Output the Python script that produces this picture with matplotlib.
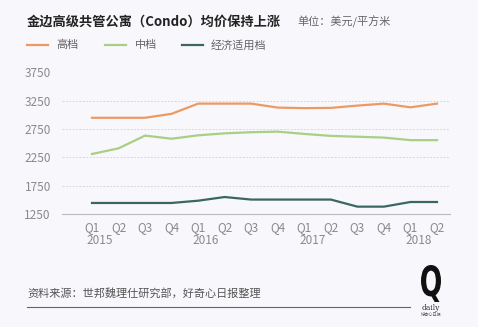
import matplotlib.pyplot as plt
from matplotlib.transforms import blended_transform_factory, Affine2D
from matplotlib.textpath import TextPath
from matplotlib.patches import PathPatch
from matplotlib.font_manager import FontProperties

plt.rcParams['font.family'] = ['Noto Sans CJK SC', 'DejaVu Sans']

quarters = ['Q1', 'Q2', 'Q3', 'Q4'] * 3 + ['Q1', 'Q2']
years = ['2015', '2016', '2017', '2018']
high = [2950, 2950, 2950, 3020, 3200, 3200, 3200, 3130, 3120, 3125, 3165, 3200, 3135, 3200]
mid = [2310, 2410, 2635, 2580, 2640, 2675, 2695, 2705, 2665, 2630, 2615, 2600, 2555, 2555]
low = [1445, 1445, 1445, 1445, 1485, 1550, 1505, 1505, 1505, 1505, 1380, 1380, 1462, 1462]
yticks = [1250, 1750, 2250, 2750, 3250, 3750]

c_high = '#ec9a62'
c_mid = '#a9cf85'
c_low = '#3b6763'
bg = '#f8f7fb'

W, H = 478, 327
fig = plt.figure(figsize=(4.78, 3.27), dpi=100, facecolor=bg)
ax = fig.add_axes([62/W, 1-214/H, 388/W, 141.5/H], facecolor=bg)

x = list(range(len(quarters)))
ax.plot(x, high, color=c_high, lw=1.6)
ax.plot(x, mid, color=c_mid, lw=1.6)
ax.plot(x, low, color=c_low, lw=1.6)

ax.set_xlim(-1.13, 13.49)
ax.set_ylim(1250, 3750)
ax.set_yticks(yticks)
ax.set_yticklabels([str(v) for v in yticks])
ax.set_xticks(x)
ax.set_xticklabels(quarters)
for s in ['top', 'right', 'left']:
    ax.spines[s].set_visible(False)
ax.spines['bottom'].set_color('#bbbbbb')
ax.spines['bottom'].set_linewidth(0.8)
ax.tick_params(length=0, labelsize=8.5, colors='#8a8a8a', pad=5)
ax.tick_params(axis='y', pad=8)
ax.grid(axis='y', color='#d8d8d8', lw=0.7, ls=(0, (2, 1.5)))
ax.set_axisbelow(True)

# year labels under Q1
tr = blended_transform_factory(ax.transData, fig.transFigure)
for i, yr in zip([0, 4, 8, 12], years):
    fig.text(i - 0.2, 1-241/H, yr, transform=tr, fontsize=8.5, color='#8a8a8a',
             ha='left', va='center')

# title
fig.text(27/W, 1-22/H, '金边高级共管公寓（Condo）均价保持上涨', fontsize=9.5,
         fontweight='bold', color='#222222', va='center')
fig.text(297/W, 1-22/H, '单位：美元/平方米', fontsize=8, color='#666666', va='center')

# legend
legend = [(27, 56, c_high, '高档'), (105, 135, c_mid, '中档'), (182, 211, c_low, '经济适用档')]
for x0, xt, col, lab in legend:
    fig.add_artist(plt.Line2D([x0/W, (x0+21)/W], [1-45/H, 1-45/H], color=col, lw=1.6))
    fig.text(xt/W, 1-45/H, lab, fontsize=8, color='#666666', va='center')

# source
fig.text(27/W, 1-293/H, '资料来源：世邦魏理仕研究部，好奇心日报整理', fontsize=8,
         color='#555555', va='center')
fig.add_artist(plt.Line2D([27/W, 410/W], [1-307/H, 1-307/H], color='#666666', lw=0.8))

# logo: tall narrow Q squeezed into a box (pixels)
qp = TextPath((0, 0), 'Q', size=10, prop=FontProperties(family='DejaVu Sans', weight='bold'))
ext = qp.get_extents()
bx0, bx1, by0, by1 = 421, 441, 265, 302
sx = (bx1 - bx0) / ext.width
sy = (by1 - by0) / ext.height
t = Affine2D().translate(-ext.x0, -ext.y0).scale(sx, sy).translate(bx0, H - by1)
fig.add_artist(PathPatch(qp, transform=t, color='#111111', lw=0))
fig.text(431/W, 1-308/H, 'daily', fontsize=5.5, color='#333333', ha='center', va='center',
         family='DejaVu Serif')
fig.text(431/W, 1-315/H, '好奇心日报', fontsize=3, color='#555555', ha='center', va='center')

fig.savefig('out.png', dpi=100, facecolor=bg)
